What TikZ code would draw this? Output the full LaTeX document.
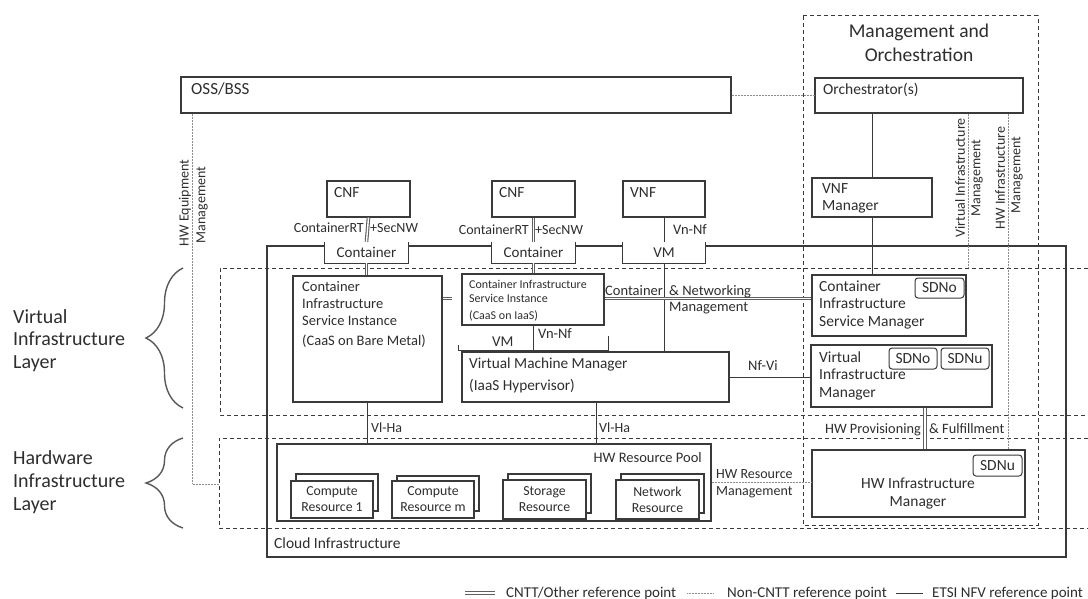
\documentclass[tikz,border=0pt]{standalone}
\usepackage{fontspec}
\setmainfont{Carlito}
\usetikzlibrary{fit,decorations.pathreplacing}
\definecolor{ink}{HTML}{2E2E2E}
\definecolor{edge}{HTML}{3A3A3A}
\definecolor{dline}{HTML}{8C8C8C}
\newcommand\fs[2]{\fontsize{#1}{#2}\selectfont}
\tikzset{
  box/.style={draw=edge, line width=1.1pt, inner sep=0pt, fill=white},
  openbox/.style={draw=edge, line width=1.1pt, inner sep=0pt},
  tabnode/.style={inner sep=0pt, fill=white, text=ink, font=\fs{15}{18}},
  tag/.style={draw=edge, line width=1pt, rounded corners=3pt, inner sep=0pt, fill=white, text=ink, font=\fs{15.5}{18}},
  txt/.style={inner sep=0pt, text=ink, align=left},
  etsi/.style={draw=edge, line width=0.85pt},
  tabside/.style={draw=edge, line width=1.1pt},
  cntt/.style={draw=gray!75!black, line width=1.1pt, double=white, double distance=1.4pt},
  noncntt/.style={draw=dline, line width=0.8pt, dash pattern=on 1pt off 0.5pt},
  layer/.style={draw=edge, line width=1pt, dash pattern=on 4pt off 3pt},
  brc/.style={draw=gray!70!black, line width=1.4pt, decorate, decoration={brace, amplitude=37pt, aspect=0.5}},
}
\begin{document}
\begin{tikzpicture}[x=1pt,y=-1pt]
\useasboundingbox[fill=white] (0,0) rectangle (1088,599);

% ---------- cloud infrastructure and layers ----------
\node[openbox, fit={(267,246) (1066,557)}] (cloud) {};
\node[txt, anchor=base west, font=\fs{15.5}{18}] (tcloud) at (274,548) {Cloud Infrastructure};

\draw[layer] (1088,268) -- (220,268) -- (220,415) -- (1088,415);
\draw[layer] (1088,438) -- (219,438) -- (219,528) -- (1088,528);
\draw[layer] (803,16) rectangle (1038,525);

% multi-line nodes: "base" is the last line's baseline
\node[txt, anchor=base, align=center, font=\fs{19.5}{24}] (tmano) at (919,62) {Management and\\Orchestration};

% braces and layer labels
\draw[brc] (183,408) -- (183,268);
\draw[brc] (183,528) -- (183,438);
\node[txt, anchor=base west, font=\fs{20}{22.5}] (tvil) at (13,368) {Virtual\\Infrastructure\\Layer};
\node[txt, anchor=base west, font=\fs{20}{23}] (thil) at (13,510) {Hardware\\Infrastructure\\Layer};

% ---------- top boxes ----------
\node[box, fit={(181,77) (731,113)}] (oss) {};
\node[txt, anchor=base west, font=\fs{17}{20}] (toss) at (191,95) {OSS/BSS};
\node[box, fit={(815,78) (1023,113)}] (orch) {};
\node[txt, anchor=base west, font=\fs{15.5}{18}] (torch) at (823,95) {Orchestrator(s)};
\node[box, fit={(812,178) (932,217)}] (vnfm) {};
\node[txt, anchor=base west, font=\fs{15.5}{17}] (tvnfm) at (822,211) {VNF\\Manager};

\node[box, fit={(327,181) (410,217)}] (cnf1) {};
\node[txt, anchor=base west, font=\fs{15.5}{18}] (tcnf1) at (334,198) {CNF};
\node[box, fit={(492,181) (575,217)}] (cnf2) {};
\node[txt, anchor=base west, font=\fs{15.5}{18}] (tcnf2) at (499,198) {CNF};
\node[box, fit={(623,181) (705,217)}] (vnf) {};
\node[txt, anchor=base west, font=\fs{15.5}{18}] (tvnf) at (630,198) {VNF};

% tabs on the cloud edge
\node[tabnode, minimum width=83pt, minimum height=21pt] (ct1) at (366.5,252.5) {Container};
\node[tabnode, minimum width=83pt, minimum height=21pt] (ct2) at (533.5,252.5) {Container};
\node[tabnode, minimum width=82pt, minimum height=21pt] (vmt) at (664,252.5) {VM};
\foreach \t in {ct1,ct2,vmt}
  \draw[tabside] (\t.north west) -- (\t.south west) -- (\t.south east) -- (\t.north east);

% ---------- virtual layer boxes ----------
\node[box, fit={(293,276) (442,402)}] (caasbm) {};
\node[txt, anchor=base west, font=\fs{14.5}{17}] (tcaasbm) at (302,345) {Container\\Infrastructure\\Service Instance\\[3pt](CaaS on Bare Metal)};
\node[box, fit={(462,274) (604,325)}] (caasi) {};
\node[txt, anchor=base west, font=\fs{12}{14}] (tcaasi) at (469,319) {Container Infrastructure\\Service Instance\\[3pt](CaaS on IaaS)};

\node[box, fit={(462,352) (729,402)}] (vmm) {};
\node[txt, anchor=base west, font=\fs{15.3}{22}] (tvmm) at (469,390) {Virtual Machine Manager\\(IaaS Hypervisor)};
\node[inner sep=0pt, fill=white, fit={(459,336) (608,350)}] (vmtab) {};
\draw[tabside] ([shift={(0,-5)}]vmtab.south west) -- (vmtab.south west) -- (vmtab.south east) -- (vmtab.north east);
\node[txt, anchor=base west, font=\fs{15}{18}] (tvmtab) at (492,346) {VM};

\node[box, fit={(812,275) (966,336)}] (cism) {};
\node[txt, anchor=base west, font=\fs{15.5}{17.5}] (tcism) at (819,326) {Container\\Infrastructure\\Service Manager};
\node[tag, fit={(915,278) (964,298)}, label={[inner sep=0pt, text=ink, font=\fs{15.5}{18}]center:SDNo}] (sdno1) {};

\node[box, fit={(811,345) (992,407)}] (vim) {};
\node[txt, anchor=base west, font=\fs{15.5}{17.5}] (tvim) at (819,397) {Virtual\\Infrastructure\\Manager};
\node[tag, fit={(889,348) (937,369)}, label={[inner sep=0pt, text=ink, font=\fs{15.5}{18}]center:SDNo}] (sdno2) {};
\node[tag, fit={(941,348) (989,369)}, label={[inner sep=0pt, text=ink, font=\fs{15.5}{18}]center:SDNu}] (sdnu1) {};

% ---------- hardware layer ----------
\node[box, fit={(812,450) (1025,517)}] (hwim) {};
\node[txt, anchor=base, align=center, font=\fs{15.5}{18}] (thwim) at (918,506) {HW Infrastructure\\Manager};
\node[tag, fit={(973,455) (1022,476)}, label={[inner sep=0pt, text=ink, font=\fs{15.5}{18}]center:SDNu}] (sdnu2) {};

\node[box, fit={(277,444) (711,521)}] (hwpool) {};
\node[txt, anchor=base east, font=\fs{14.5}{18}] (thwpool) at (702,462) {HW Resource Pool};

\node[box, fit={(296,474) (378,511)}] (cr1b) {};
\node[box, fit={(291,481) (373,518)}, label={[txt, align=center, font=\fs{13.8}{16}]center:Compute\\Resource 1}] (cr1) {};
\node[box, fit={(397,476) (479,511)}] (crmb) {};
\node[box, fit={(392,481) (474,518)}, label={[txt, align=center, font=\fs{13.8}{16}]center:Compute\\Resource m}] (crm) {};
\node[box, fit={(508,474) (591,513)}] (srb) {};
\node[box, fit={(503,480) (586,519)}, label={[txt, align=center, font=\fs{13.8}{16}]center:Storage\\Resource}] (sr) {};
\node[box, fit={(621,474) (704,513)}] (nrb) {};
\node[box, fit={(616,480) (699,519)}, label={[txt, align=center, font=\fs{13.8}{16}]center:Network\\Resource}] (nr) {};

% ---------- connectors ----------
\draw[noncntt] (oss.east) -- (oss.east -| orch.west);
\draw[etsi] (vnfm.north |- orch.south) -- (vnfm.north);
\draw[etsi] (vnfm.south) -- (vnfm.south |- cism.north);
\coordinate (vimend) at (968,267);
\draw[noncntt] (vimend |- orch.south) -- (vimend);
\coordinate (hwimx) at (1008,300);
\draw[noncntt] (hwimx |- orch.south) -- (hwimx |- hwim.north);

\coordinate (hweqend) at (219,484);
\draw[noncntt] ([shift={(12,0)}]oss.south west) |- (hweqend);

\draw[cntt] (cnf1.south) -- (ct1.north);
\draw[cntt] (ct1.south) -- (ct1.south |- caasbm.north);
\draw[cntt] (cnf2.south) -- (ct2.north);
\draw[cntt] (ct2.south) -- (ct2.south |- caasi.north);
\draw[etsi] (vnf.south) -- (vmt.north);
\draw[etsi] (vmt.south) -- (vmt.south |- vmm.north);
\draw[cntt] ([shift={(0,23)}]caasbm.north east) -- ++(9,0);
\draw[cntt] ([shift={(0,-1)}]caasi.east) -- ([shift={(0,-1)}]caasi.east -| cism.west);
\draw[etsi] (caasi.south) -- (caasi.south |- vmtab.south);
\draw[etsi] (vmm.east) -- (vmm.east -| vim.west);
\draw[etsi] (caasbm.south) -- (caasbm.south |- hwpool.north);
\draw[etsi] ([shift={(0.5,0)}]vmm.south) -- ([shift={(0.5,0)}]vmm.south |- hwpool.north);
\draw[cntt] ([shift={(23.5,0)}]vim.south) -- ([shift={(23.5,0)}]vim.south |- hwim.north);
\draw[noncntt] (hwpool.east) -- (hwpool.east -| hwim.west);

% ---------- connector labels ----------
\node[txt, anchor=base east, font=\fs{14}{17}] (lrt1) at (364,233) {ContainerRT};
\node[txt, anchor=base west, font=\fs{14}{17}] (lsn1) at (370,233) {+SecNW};
\node[txt, anchor=base east, font=\fs{14}{17}] (lrt2) at (529,234) {ContainerRT};
\node[txt, anchor=base west, font=\fs{14}{17}] (lsn2) at (535,234) {+SecNW};
\node[txt, anchor=base west, font=\fs{14.5}{17}] (lvnnf1) at (673,235) {Vn-Nf};
\node[txt, anchor=base west, font=\fs{14.5}{17}] (lvnnf2) at (538,338) {Vn-Nf};
\node[txt, anchor=base west, font=\fs{14.5}{17}] (lcnm1) at (605,295) {Container};
\node[txt, anchor=base west, font=\fs{14.5}{16}] (lcnm2) at (669,311) {\& Networking\\Management};
\node[txt, anchor=base west, font=\fs{14.5}{17}] (lnfvi) at (748,370) {Nf-Vi};
\node[txt, anchor=base west, font=\fs{14}{17}] (lvlha1) at (371,432) {Vl-Ha};
\node[txt, anchor=base west, font=\fs{14}{17}] (lvlha2) at (599,432) {Vl-Ha};
\node[txt, anchor=base east, font=\fs{14.3}{17}] (lhwp1) at (921,433) {HW Provisioning};
\node[txt, anchor=base west, font=\fs{14.3}{17}] (lhwp2) at (929,433) {\& Fulfillment};
\node[txt, anchor=base west, font=\fs{14}{17}] (lhwrm) at (716,495) {HW Resource\\Management};

\node[txt, rotate=90, font=\fs{14}{17}] (lhweq1) at (185,203) {HW Equipment};
\node[txt, rotate=90, font=\fs{14}{17}] (lhweq2) at (202,205) {Management};
\node[txt, rotate=90, font=\fs{14}{17}] (lvim1) at (960,178) {Virtual Infrastructure};
\node[txt, rotate=90, font=\fs{14}{17}] (lvim2) at (977,178) {Management};
\node[txt, rotate=90, font=\fs{14}{17}] (lhwim1) at (1000,178) {HW Infrastructure};
\node[txt, rotate=90, font=\fs{14}{17}] (lhwim2) at (1017,175) {Management};

% ---------- legend ----------
\coordinate (lg1a) at (465,593); \coordinate (lg1b) at (495,593);
\coordinate (lg2a) at (687,593); \coordinate (lg2b) at (713,593);
\coordinate (lg3a) at (896,593); \coordinate (lg3b) at (923,593);
\draw[cntt] (lg1a) -- (lg1b);
\draw[noncntt] (lg2a) -- (lg2b);
\draw[etsi] (lg3a) -- (lg3b);
\node[txt, anchor=base west, font=\fs{15}{18}] (lgt1) at (506,597) {CNTT/Other reference point};
\node[txt, anchor=base west, font=\fs{15}{18}] (lgt2) at (727,597) {Non-CNTT reference point};
\node[txt, anchor=base west, font=\fs{15}{18}] (lgt3) at (932,597) {ETSI NFV reference point};
\end{tikzpicture}
\end{document}
